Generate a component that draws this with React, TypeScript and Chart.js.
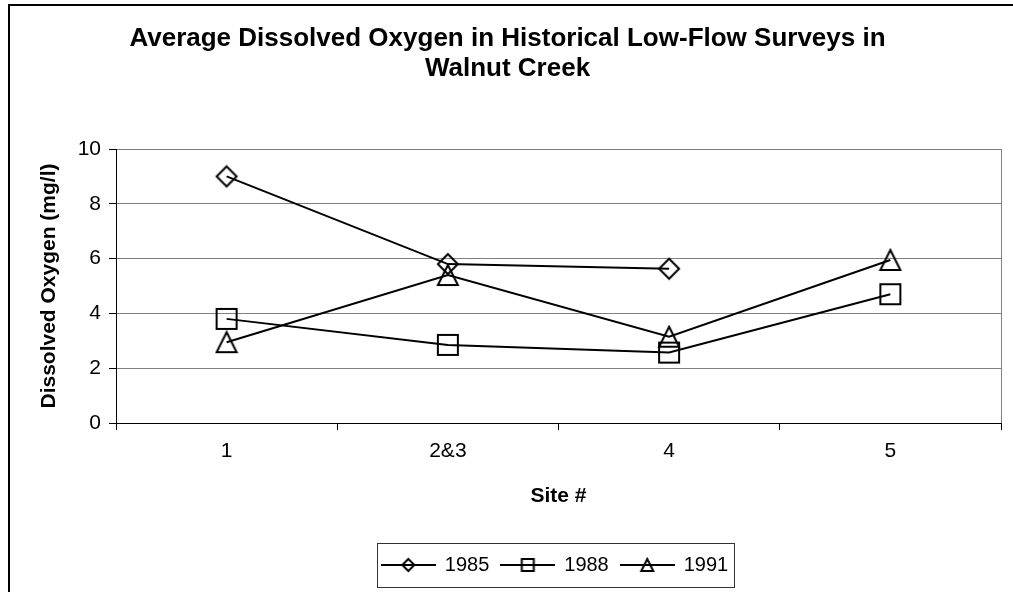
import React, { useEffect, useRef } from 'react';
import { Chart, registerables } from 'chart.js';

Chart.register(...registerables);

const sites = ['1', '2&3', '4', '5'];
const do1985 = [9.0, 5.8, 5.63, null];
const do1988 = [3.8, 2.85, 2.57, 4.7];
const do1991 = [2.95, 5.4, 3.15, 5.95];
const seriesNames = ['1985', '1988', '1991'];
const seriesShapes = ['diamond', 'square', 'triangle'];
const titleLines = ['Average Dissolved Oxygen in Historical Low-Flow Surveys in', 'Walnut Creek'];
const yAxisTitle = 'Dissolved Oxygen (mg/l)';
const xAxisTitle = 'Site #';
const yMin = 0;
const yMax = 10;
const yStep = 2;

const FONT = '"Liberation Sans", Arial, sans-serif';

function makeMarker(shape: string, size: number, lineLen?: number): HTMLCanvasElement {
  const w = lineLen || size + 4;
  const h = size + 4;
  const c = document.createElement('canvas');
  c.width = w;
  c.height = h;
  const ctx = c.getContext('2d') as CanvasRenderingContext2D;
  ctx.strokeStyle = '#000';
  ctx.lineWidth = 2;
  ctx.lineJoin = 'miter';
  const cx = w / 2;
  const cy = h / 2;
  const r = size / 2;
  if (lineLen) {
    ctx.beginPath();
    ctx.moveTo(0, cy);
    ctx.lineTo(w, cy);
    ctx.stroke();
  }
  ctx.beginPath();
  if (shape === 'diamond') {
    ctx.moveTo(cx, cy - r);
    ctx.lineTo(cx + r, cy);
    ctx.lineTo(cx, cy + r);
    ctx.lineTo(cx - r, cy);
    ctx.closePath();
  } else if (shape === 'square') {
    ctx.rect(cx - r, cy - r, 2 * r, 2 * r);
  } else {
    ctx.moveTo(cx, cy - r);
    ctx.lineTo(cx + r, cy + r);
    ctx.lineTo(cx - r, cy + r);
    ctx.closePath();
  }
  ctx.stroke();
  return c;
}

export default function App() {
  const ref = useRef<HTMLCanvasElement | null>(null);

  useEffect(() => {
    if (!ref.current) return;
    const markers = seriesShapes.map((s) => makeMarker(s, 20));
    const legendMarkers = seriesShapes.map((s) => makeMarker(s, 12, 55));
    const values = [do1985, do1988, do1991];

    const frameAndLegendBox = {
      id: 'frameAndLegendBox',
      afterLayout(chart: any) {
        const lg = chart.legend;
        if (lg) {
          const shift = 545 - (lg.left + lg.right) / 2;
          lg.left += shift;
          lg.right += shift;
        }
      },
      beforeDatasetsDraw(chart: any) {
        const { ctx, chartArea } = chart;
        ctx.save();
        ctx.strokeStyle = '#808080';
        ctx.lineWidth = 1;
        ctx.beginPath();
        const x = Math.round(chartArea.right) + 0.5;
        ctx.moveTo(x, chartArea.top);
        ctx.lineTo(x, chartArea.bottom);
        ctx.stroke();
        ctx.restore();
      },
      afterDraw(chart: any) {
        const lg = chart.legend;
        if (!lg || !lg.legendHitBoxes || !lg.legendHitBoxes.length) return;
        const hb = lg.legendHitBoxes;
        const first = hb[0];
        const last = hb[hb.length - 1];
        const cy = first.top + first.height / 2;
        const left = Math.round(first.left - 5) + 0.5;
        const right = Math.round(last.left + last.width + 6) + 0.5;
        const top = Math.round(cy - 22) + 0.5;
        const bottom = Math.round(cy + 22) + 0.5;
        const ctx = chart.ctx;
        ctx.save();
        ctx.strokeStyle = '#333';
        ctx.lineWidth = 1;
        ctx.strokeRect(left, top, right - left, bottom - top);
        ctx.restore();
      },
    };

    const chart = new Chart(ref.current, {
      type: 'line',
      data: {
        labels: sites,
        datasets: seriesNames.map((name, i) => ({
          label: name,
          data: values[i],
          borderColor: '#000',
          backgroundColor: 'transparent',
          borderWidth: 2,
          pointStyle: markers[i],
          pointRadius: 10,
          tension: 0,
          spanGaps: false,
          clip: false as any,
        })),
      },
      options: {
        responsive: false,
        animation: false,
        color: '#000',
        layout: { padding: { left: 0, right: 8, top: 0, bottom: 7 } },
        plugins: {
          title: {
            display: true,
            text: titleLines,
            color: '#000',
            font: { family: FONT, size: 26, weight: 'bold', lineHeight: 30 / 26 },
            padding: { top: 14, bottom: 65 },
          },
          legend: {
            display: true,
            position: 'bottom',
            labels: {
              usePointStyle: true,
              pointStyleWidth: 53,
              padding: 12,
              color: '#000',
              font: { family: FONT, size: 20 },
              generateLabels: (ch: any) =>
                ch.data.datasets.map((ds: any, i: number) => ({
                  text: ds.label,
                  pointStyle: legendMarkers[i],
                  fillStyle: 'transparent',
                  strokeStyle: '#000',
                  lineWidth: 0,
                  hidden: false,
                  datasetIndex: i,
                })),
            },
          },
          tooltip: { enabled: false },
        },
        scales: {
          x: {
            type: 'category',
            offset: true,
            afterFit: (s: any) => {
              s.height = 120;
            },
            grid: {
              display: true,
              drawOnChartArea: false,
              drawTicks: true,
              tickLength: 7,
              offset: true,
              color: '#000',
              tickColor: '#000',
            },
            border: { display: true, color: '#000', width: 1 },
            ticks: {
              color: '#000',
              font: { family: FONT, size: 21 },
              padding: 9,
              maxRotation: 0,
              autoSkip: false,
            },
            title: {
              display: true,
              text: xAxisTitle,
              color: '#000',
              font: { family: FONT, size: 21, weight: 'bold' },
              padding: { top: 0, bottom: 34 },
            },
          },
          y: {
            min: yMin,
            max: yMax,
            afterFit: (s: any) => {
              s.width = 106;
            },
            grid: {
              color: '#808080',
              lineWidth: 1,
              drawTicks: true,
              tickLength: 7,
              tickColor: '#000',
            },
            border: { display: true, color: '#000', width: 1 },
            ticks: {
              stepSize: yStep,
              color: '#000',
              font: { family: FONT, size: 21 },
              padding: 8,
            },
            title: {
              display: true,
              text: yAxisTitle,
              color: '#000',
              font: { family: FONT, size: 21, weight: 'bold' },
              padding: { top: 27, bottom: 0 },
            },
          },
        },
      },
      plugins: [frameAndLegendBox],
    } as any);

    return () => {
      chart.destroy();
    };
  }, []);

  return (
    <div
      style={{
        position: 'fixed',
        left: 0,
        top: 0,
        width: 1013,
        height: 592,
        overflow: 'hidden',
        background: '#fff',
      }}
    >
      <div style={{ position: 'absolute', left: 8, top: 4, width: 1005, height: 2, background: '#000' }} />
      <div style={{ position: 'absolute', left: 8, top: 4, width: 2, height: 588, background: '#000' }} />
      <canvas
        ref={ref}
        width={1003}
        height={582}
        style={{ display: 'block', position: 'absolute', left: 10, top: 10 }}
      />
    </div>
  );
}
